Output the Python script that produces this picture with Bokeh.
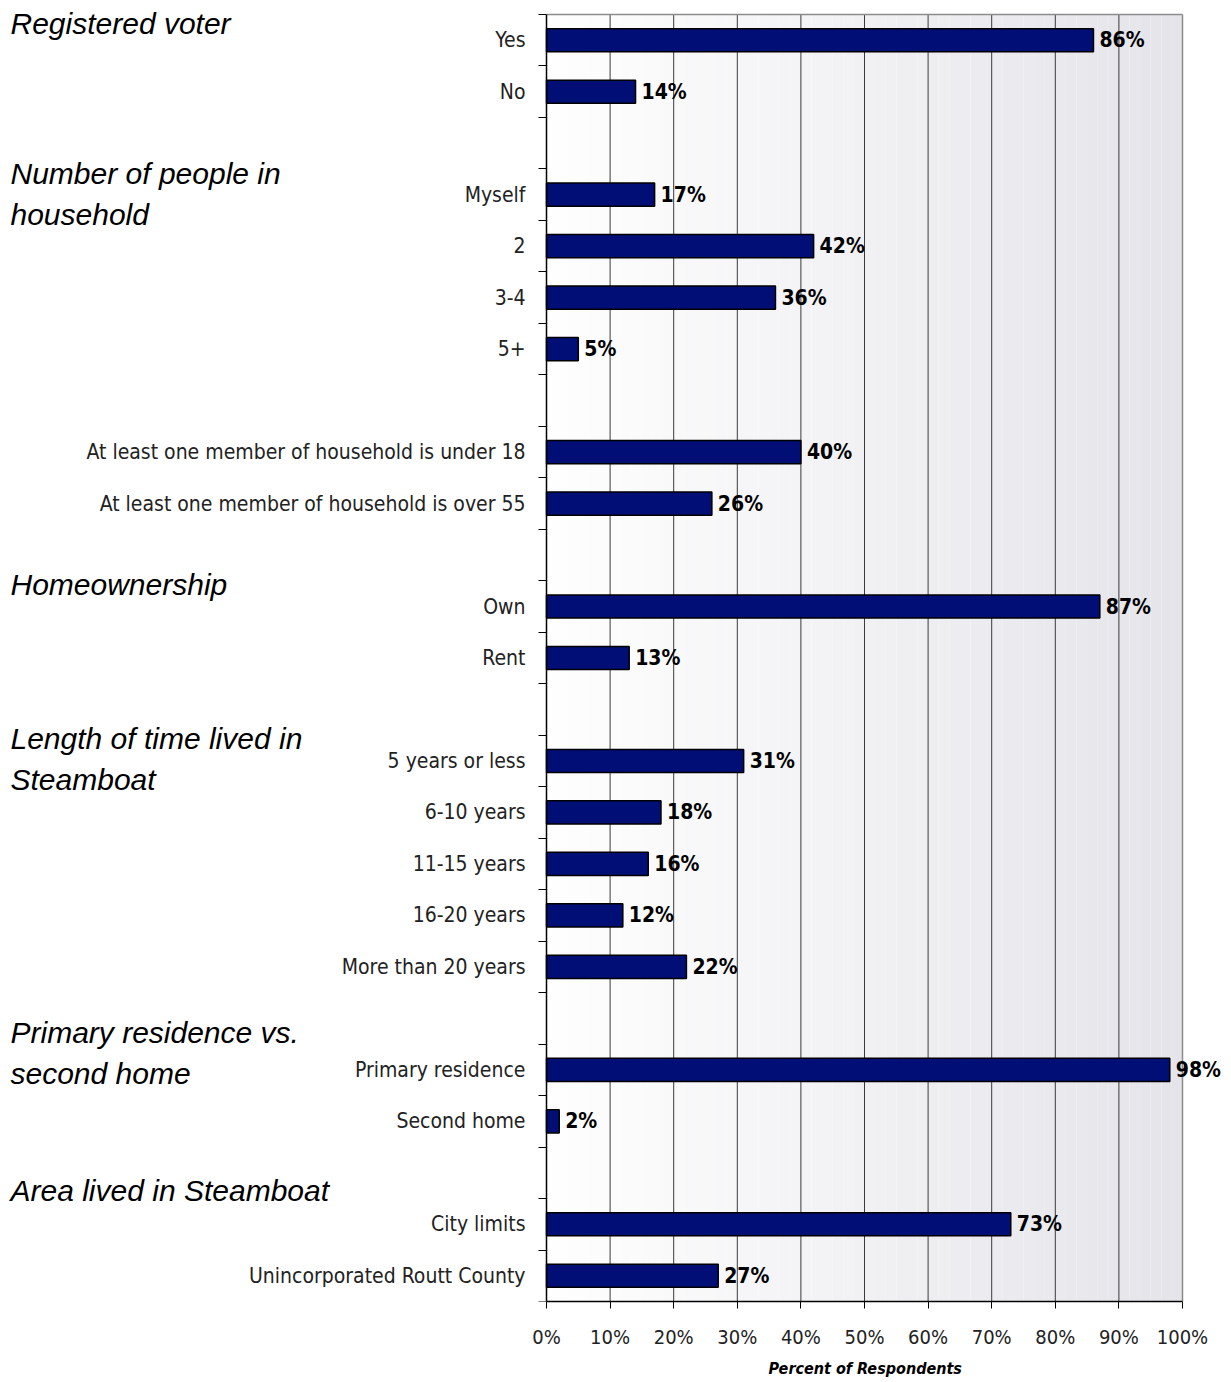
import numpy as np
from bokeh.plotting import figure
from bokeh.models import Range1d, FixedTicker, ColumnDataSource, Title
from bokeh.embed import file_html
from bokeh.resources import INLINE
from bokeh.core.properties import value

# ---------------- data ----------------
row_labels = ["Yes", "No", "",
              "Myself", "2", "3-4", "5+", "",
              "At least one member of household is under 18",
              "At least one member of household is over 55", "",
              "Own", "Rent", "",
              "5 years or less", "6-10 years", "11-15 years", "16-20 years",
              "More than 20 years", "",
              "Primary residence", "Second home", "",
              "City limits", "Unincorporated Routt County"]
row_values = [86, 14, None,
              17, 42, 36, 5, None,
              40, 26, None,
              87, 13, None,
              31, 18, 16, 12, 22, None,
              98, 2, None,
              73, 27]
section_titles = [["Registered voter"],
                  ["Number of people in", "household"],
                  ["Homeownership"],
                  ["Length of time lived in", "Steamboat"],
                  ["Primary residence vs.", "second home"],
                  ["Area lived in Steamboat"]]
x_ticks = [0, 10, 20, 30, 40, 50, 60, 70, 80, 90, 100]
x_tick_labels = [f"{t}%" for t in x_ticks]
x_title = "Percent of Respondents"

# ---------------- layout constants ----------------
W, H = 1231, 1382
AX_LEFT, AX_RIGHT = 546, 1182          # pixel position of 0% and 100%
TOP, BOTTOM = 14, 1301                  # pixel position of plot top / bottom
PX = (AX_RIGHT - AX_LEFT) / 100.0       # pixels per percent
n = len(row_labels)
ROW = (BOTTOM - TOP) / n                # pixels per row
HEADER_PX = [23, 173, 584, 738, 1032, 1190]   # header first-line centres (pixels)
HEADER_LINE = 41                               # header line spacing (pixels)
NARROW = "'Liberation Sans Narrow', 'Arial Narrow', 'DejaVu Sans Condensed', sans-serif"
SANS = "'Liberation Sans', Arial, sans-serif"

y_lo, y_hi = -0.5, n - 0.5              # plot area rows
p = figure(width=W, height=H, output_backend="svg", toolbar_location=None,
           x_range=Range1d(-AX_LEFT / PX, 100 + (W - AX_RIGHT) / PX),
           y_range=Range1d(y_hi, y_lo - TOP / ROW),
           min_border_left=0, min_border_right=0, min_border_top=0,
           min_border_bottom=H - BOTTOM)
p.background_fill_color = "white"
p.border_fill_color = "white"
p.outline_line_color = None
p.grid.visible = False

# background gradient (vertical strips across 0-100%)
strips = 60
edges = np.linspace(0, 100, strips + 1)
t = (edges[:-1] + edges[1:]) / 200
cols = ["#%02x%02x%02x" % (int(255 - 27 * k), int(255 - 27 * k), int(255 - 21 * k)) for k in t]
p.quad(left=edges[:-1], right=edges[1:], bottom=y_hi, top=y_lo,
       fill_color=cols, line_color=None, level="image")

# vertical gridlines at the x ticks (inside plot area only)
p.segment(x0=x_ticks[1:-1], x1=x_ticks[1:-1], y0=y_lo, y1=y_hi,
          line_color="#3a3a3a", line_width=1, level="underlay")
# plot area border (top and right)
p.segment(x0=[0, 100], x1=[100, 100], y0=[y_lo, y_lo], y1=[y_lo, y_hi],
          line_color="#8c8c8c", line_width=1.5, level="underlay")

# bars
ys = [i for i, v in enumerate(row_values) if v is not None]
vals = [v for v in row_values if v is not None]
src = ColumnDataSource(dict(y=ys, v=vals, lab=[f"{v}%" for v in vals]))
p.hbar(y="y", right="v", left=0, height=0.45, source=src,
       fill_color="#000e75", line_color="black", line_width=1.5)
p.text(x="v", y="y", text="lab", source=src, x_offset=6,
       text_baseline="middle", text_align="left",
       text_font=value(NARROW), text_font_style="bold",
       text_font_size="21px", text_color="black")

# x axis (below), limited to 0-100%
xa = p.xaxis[0]
xa.bounds = (0, 100)
xa.ticker = FixedTicker(ticks=x_ticks)
xa.major_label_overrides = {t: l for t, l in zip(x_ticks, x_tick_labels)}
xa.major_label_text_font = NARROW
xa.major_label_text_font_size = "20px"
xa.major_label_text_color = "#222222"
xa.major_tick_out = 7
xa.major_tick_in = 0
xa.minor_tick_out = 0
xa.major_label_standoff = 16
xa.axis_line_color = "black"
xa.axis_line_width = 1.5

# x title, centred under the 0-100% span
p.add_layout(Title(text=x_title, align="left", offset=768, standoff=10,
                   text_font=NARROW, text_font_style="bold italic",
                   text_font_size="16px", text_color="black"), "below")

# y axis fixed at 0%
ya = p.yaxis[0]
ya.fixed_location = 0
ya.bounds = (y_lo, y_hi)
centers = [i for i, l in enumerate(row_labels) if l]
ya.ticker = FixedTicker(ticks=centers, minor_ticks=[i - 0.5 for i in range(n + 1)])
ya.major_label_overrides = {i: row_labels[i] for i in centers}
ya.major_label_text_font = NARROW
ya.major_label_text_font_size = "21px"
ya.major_label_text_color = "#222222"
ya.major_tick_out = 0
ya.major_tick_in = 0
ya.minor_tick_out = 8
ya.minor_tick_in = 0
ya.major_label_standoff = 13
ya.axis_line_color = "black"
ya.axis_line_width = 1.5

# section headers (left)
hx, hy, ht = [], [], []
for lines, py in zip(section_titles, HEADER_PX):
    for k, line in enumerate(lines):
        hx.append((10 - AX_LEFT) / PX)
        hy.append((py + k * HEADER_LINE - TOP) / ROW - 0.5)
        ht.append(line)
p.text(x=hx, y=hy, text=ht, text_align="left", text_baseline="middle",
       text_font=value(SANS), text_font_style="italic",
       text_font_size="30px", text_color="black")

open("out.html", "w").write(file_html(p, INLINE))
